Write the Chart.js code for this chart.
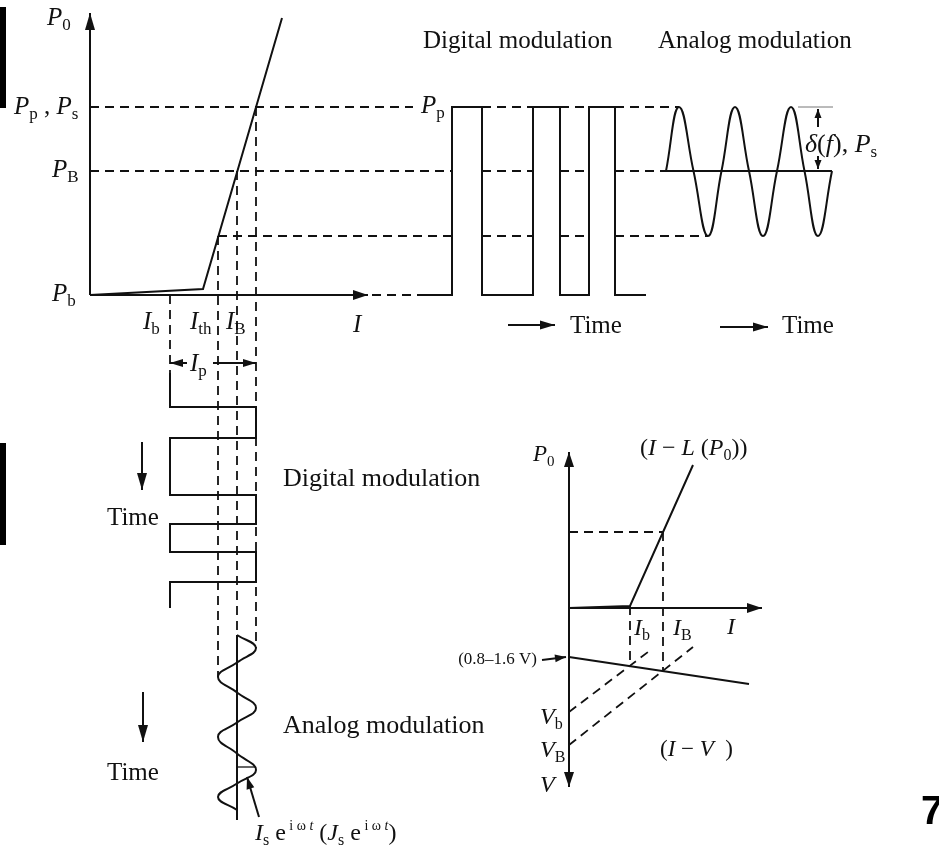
<!DOCTYPE html>
<html>
<head>
<meta charset="utf-8">
<title>Semiconductor laser modulation: L–I and I–V characteristics</title>
<script src="https://cdn.jsdelivr.net/npm/chart.js@4.4.1/dist/chart.umd.min.js"></script>
<style>
  html, body { margin: 0; padding: 0; background: #ffffff; }
  canvas { display: block; }
</style>
</head>
<body>
<canvas id="diagram" width="939" height="853"></canvas>
<script>
// ---------------------------------------------------------------
// Diagram coordinates (x to the right, y downwards) used by both scales
// ---------------------------------------------------------------
const VIEW_W = 939;
const VIEW_H = 853;

// Output power levels of the upper L–I plot (y position on the P0 axis)
const powerPeak = 107;    // Pp , Ps
const powerBias = 171;    // PB
const powerTrough = 236;  // lowest analog level
const powerBase = 295;    // Pb (current axis)

// Drive currents on the I axis (x position)
const currentIb = 170;
const currentIth = 218;
const currentIB = 237;
const currentIp = 256;

// L–I characteristic: spontaneous part up to threshold, then lasing slope
const liCurve = [[90, 295], [203, 289], [282, 18]];

// Digital optical output: rising / falling edges of the three pulses
const pulseEdges = [[452, 482], [533, 560], [589, 615]];
const pulseLineStart = 420;
const pulseLineEnd = 646;

// Analog optical output: crossings, crests and troughs (x positions)
const analogStart = 666;
const analogEnd = 832;
const analogCrests = [679, 735, 791];
const analogTroughs = [708, 763, 818];

// Digital drive current (time runs downwards): y of each switching edge
const drivePulseTop = 373;
const driveSwitchRows = [407, 438, 495, 524, 552, 582];
const drivePulseBottom = 608;

// Analog drive current around IB: y of right crests and left troughs
const driveWaveStart = 635;
const driveWaveEnd = 810;
const driveCrests = [648, 708, 770];
const driveTroughs = [677, 737, 797];
const driveAxisEnd = 820;
const driveAmplitudeRow = 767;

// Lower right: L–I and I–V of the same diode
const smallOrigin = [569, 608];
const smallLI = [[569, 608], [630, 606], [693, 465]];
const smallIV = [[569, 657], [749, 684]];
const smallIb = 630;
const smallIB = 663;
const smallPB = 532;
const smallVb = 712;
const smallVB = 745;
const smallIVatIb = 665;
const smallIVatIB = 670;

// ---------------------------------------------------------------
// Helpers that turn the arrays above into Chart.js datasets
// ---------------------------------------------------------------
const INK = '#111111';
const DASH = [9, 6];
const datasets = [];
const arrowHeads = [];

function line(points, opts) {
  datasets.push(Object.assign({
    data: points.map(([x, y]) => ({ x, y })),
    showLine: true,
    borderColor: INK,
    borderWidth: 2,
    pointRadius: 0,
    pointHoverRadius: 0,
    fill: false,
    tension: 0,
    clip: false,
    borderCapStyle: 'butt',
    borderJoinStyle: 'miter'
  }, opts || {}));
}
function dashed(points, opts) {
  line(points, Object.assign({ borderDash: DASH, borderWidth: 1.8 }, opts || {}));
}
// arrow from tail to tip; the head is painted by the plugin below
function arrow(tail, tip, len, half, opts) {
  line([tail, tip], opts);
  arrowHeads.push({ tail, tip, len, half });
}

// page-edge marks
line([[3, 7], [3, 108]], { borderWidth: 6, borderColor: '#000' });
line([[3, 443], [3, 545]], { borderWidth: 6, borderColor: '#000' });

// ---- upper left: L–I characteristic ----
arrow([90, powerBase], [90, 13], 17, 5);
arrow([90, powerBase], [368, powerBase], 15, 5);
line(liCurve);
dashed([[372, powerBase], [pulseLineStart, powerBase]]);

// horizontal projections towards the output waveforms
const gaps = [];
for (let i = 0; i < pulseEdges.length - 1; i++) gaps.push([pulseEdges[i][1], pulseEdges[i + 1][0]]);
const firstEdge = pulseEdges[0][0];
const lastEdge = pulseEdges[pulseEdges.length - 1][1];
dashed([[90, powerPeak], [413, powerPeak]]);
dashed([[90, powerBias], [firstEdge, powerBias]]);
dashed([[currentIth, powerTrough], [firstEdge, powerTrough]]);
gaps.forEach(([a, b]) => {
  dashed([[a, powerPeak], [b, powerPeak]]);
  dashed([[a, powerBias], [b, powerBias]]);
  dashed([[a, powerTrough], [b, powerTrough]]);
});
dashed([[lastEdge, powerPeak], [analogCrests[0], powerPeak]]);
dashed([[lastEdge, powerBias], [analogStart, powerBias]]);
dashed([[lastEdge, powerTrough], [analogTroughs[0], powerTrough]]);

// vertical projections towards the drive currents
dashed([[currentIb, powerBase], [currentIb, drivePulseTop]]);
dashed([[currentIth, powerTrough], [currentIth, driveTroughs[0]]]);
dashed([[currentIB, powerBias], [currentIB, driveWaveStart]]);
dashed([[currentIp, powerPeak], [currentIp, driveCrests[0]]]);

// ---- upper right: digital optical pulses ----
const pulsePath = [[pulseLineStart, powerBase]];
pulseEdges.forEach(([a, b]) => {
  pulsePath.push([a, powerBase], [a, powerPeak], [b, powerPeak], [b, powerBase]);
});
pulsePath.push([pulseLineEnd, powerBase]);
line(pulsePath);
arrow([508, 325], [555, 325], 15, 4.5);

// ---- upper right: analog optical signal ----
line([[analogStart, powerBias], [analogEnd, powerBias]]);
const analogPath = [[analogStart, powerBias]];
analogCrests.forEach((c, i) => {
  const t = analogTroughs[i];
  analogPath.push([c, powerPeak], [(c + t) / 2, powerBias], [t, powerTrough]);
  const next = i + 1 < analogCrests.length ? (t + analogCrests[i + 1]) / 2 : analogEnd;
  analogPath.push([next, powerBias]);
});
line(analogPath, { tension: 0.45 });
arrow([720, 327], [768, 327], 15, 4.5);
line([[798, powerPeak], [833, powerPeak]], { borderWidth: 1, borderColor: '#777' });
arrow([818, 127], [818, 109], 9, 3.5);
arrow([818, 156], [818, 169], 9, 3.5);

// ---- lower left: digital drive current ----
const drivePath = [[currentIb, drivePulseTop]];
driveSwitchRows.forEach((row, i) => {
  const from = i % 2 === 0 ? currentIb : currentIp;
  const to = i % 2 === 0 ? currentIp : currentIb;
  drivePath.push([from, row], [to, row]);
});
drivePath.push([currentIb, drivePulseBottom]);
line(drivePath);
// Ip span arrows
arrow([187, 363], [currentIb, 363], 13, 4);
arrow([213, 363], [currentIp, 363], 13, 4);
arrow([142, 442], [142, 490], 17, 5);

// ---- lower left: analog drive current ----
line([[currentIB, driveWaveStart], [currentIB, driveAxisEnd]]);
const drivePath2 = [[currentIB, driveWaveStart]];
driveCrests.forEach((c, i) => {
  const t = driveTroughs[i];
  drivePath2.push([currentIp, c], [currentIB, (c + t) / 2], [currentIth, t]);
  const next = i + 1 < driveCrests.length ? (t + driveCrests[i + 1]) / 2 : driveWaveEnd;
  drivePath2.push([currentIB, next]);
});
line(drivePath2, { tension: 0.45 });
line([[currentIB, driveAmplitudeRow], [255, driveAmplitudeRow]], { borderWidth: 1.3 });
arrow([259, 817], [247, 777], 12, 4);
arrow([143, 692], [143, 742], 17, 5);

// ---- lower right: L–I and I–V ----
arrow(smallOrigin, [569, 452], 15, 5);
arrow(smallOrigin, [569, 787], 15, 5);
arrow(smallOrigin, [762, 608], 15, 5);
line(smallLI);
line(smallIV);
dashed([[569, smallPB], [smallIB, smallPB]]);
dashed([[smallIB, smallPB], [smallIB, smallIVatIB]]);
dashed([[smallIb, 606], [smallIb, smallIVatIb]]);
dashed([[569, smallVb], [648, 652]]);
dashed([[569, smallVB], [693, 647]]);
arrow([542, 660], [566, 657], 11, 4);

// ---------------------------------------------------------------
// Text (variables italic, indices upright)
// ---------------------------------------------------------------
const SERIF = '"Liberation Serif", "Times New Roman", serif';
const textLabels = [
  { x: 47, y: 25, s: 25, p: [['P', 'i'], ['0', 'b']] },
  { x: 14, y: 114, s: 25, p: [['P', 'i'], ['p', 'b'], [' , ', 'n'], ['P', 'i'], ['s', 'b']] },
  { x: 52, y: 177, s: 25, p: [['P', 'i'], ['B', 'b']] },
  { x: 52, y: 301, s: 25, p: [['P', 'i'], ['b', 'b']] },
  { x: 143, y: 329, s: 25, p: [['I', 'i'], ['b', 'b']] },
  { x: 190, y: 329, s: 25, p: [['I', 'i'], ['th', 'b']] },
  { x: 226, y: 329, s: 25, p: [['I', 'i'], ['B', 'b']] },
  { x: 353, y: 332, s: 25, p: [['I', 'i']] },
  { x: 190, y: 371, s: 25, p: [['I', 'i'], ['p', 'b']] },
  { x: 423, y: 48, s: 25, p: [['Digital modulation', 'n']] },
  { x: 658, y: 48, s: 25, p: [['Analog modulation', 'n']] },
  { x: 421, y: 113, s: 25, p: [['P', 'i'], ['p', 'b']] },
  { x: 570, y: 333, s: 25, p: [['Time', 'n']] },
  { x: 782, y: 333, s: 25, p: [['Time', 'n']] },
  { x: 805, y: 152, s: 26, p: [['δ', 'i'], ['(', 'n'], ['f', 'i'], [')', 'n'], [', ', 'n'], ['P', 'i'], ['s', 'b']] },
  { x: 283, y: 486, s: 26, p: [['Digital modulation', 'n']] },
  { x: 107, y: 525, s: 25, p: [['Time', 'n']] },
  { x: 283, y: 733, s: 26, p: [['Analog modulation', 'n']] },
  { x: 107, y: 780, s: 25, p: [['Time', 'n']] },
  { x: 255, y: 840, s: 24, p: [['I', 'i'], ['s', 'b'], [' e', 'n'], [' i ω ', 'p'], ['t', 'pi'], [' (', 'n'], ['J', 'i'], ['s', 'b'], [' e', 'n'], [' i ω ', 'p'], ['t', 'pi'], [')', 'n']] },
  { x: 533, y: 461, s: 23, p: [['P', 'i'], ['0', 'b']] },
  { x: 640, y: 455, s: 24, p: [['(', 'n'], ['I', 'i'], [' − ', 'n'], ['L', 'i'], [' (', 'n'], ['P', 'i'], ['0', 'b'], ['))', 'n']] },
  { x: 634, y: 635, s: 24, p: [['I', 'i'], ['b', 'b']] },
  { x: 673, y: 635, s: 24, p: [['I', 'i'], ['B', 'b']] },
  { x: 727, y: 634, s: 24, p: [['I', 'i']] },
  { x: 537, y: 664, s: 17, align: 'right', p: [['(0.8–1.6 V)', 'n']] },
  { x: 540, y: 724, s: 24, p: [['V', 'i'], ['b', 'b']] },
  { x: 540, y: 757, s: 24, p: [['V', 'i'], ['B', 'b']] },
  { x: 540, y: 792, s: 24, p: [['V', 'i']] },
  { x: 660, y: 756, s: 23, p: [['(', 'n'], ['I', 'i'], [' − ', 'n'], ['V', 'i'], ['  )', 'n']] }
];

function partFont(kind, s) {
  switch (kind) {
    case 'i': return { f: `italic ${s}px ${SERIF}`, dy: 0 };
    case 'b': return { f: `${Math.round(s * 0.66)}px ${SERIF}`, dy: s * 0.2 };
    case 'p': return { f: `${Math.round(s * 0.6)}px ${SERIF}`, dy: -s * 0.42 };
    case 'pi': return { f: `italic ${Math.round(s * 0.6)}px ${SERIF}`, dy: -s * 0.42 };
    default: return { f: `${s}px ${SERIF}`, dy: 0 };
  }
}

const annotate = {
  id: 'annotate',
  afterDatasetsDraw(chart) {
    const { ctx, scales } = chart;
    const X = v => scales.x.getPixelForValue(v);
    const Y = v => scales.y.getPixelForValue(v);
    ctx.save();
    ctx.fillStyle = INK;
    // arrow heads
    arrowHeads.forEach(({ tail, tip, len, half }) => {
      const tx = X(tip[0]), ty = Y(tip[1]);
      const ax = X(tail[0]), ay = Y(tail[1]);
      const d = Math.hypot(tx - ax, ty - ay) || 1;
      const ux = (tx - ax) / d, uy = (ty - ay) / d;
      const bx = tx - ux * len, by = ty - uy * len;
      ctx.beginPath();
      ctx.moveTo(tx, ty);
      ctx.lineTo(bx - uy * half, by + ux * half);
      ctx.lineTo(bx + uy * half, by - ux * half);
      ctx.closePath();
      ctx.fill();
    });
    // labels
    ctx.textBaseline = 'alphabetic';
    ctx.textAlign = 'left';
    textLabels.forEach(lb => {
      let w = 0;
      lb.p.forEach(([t, k]) => { ctx.font = partFont(k, lb.s).f; w += ctx.measureText(t).width; });
      let x = X(lb.x) - (lb.align === 'right' ? w : 0);
      const y = Y(lb.y);
      lb.p.forEach(([t, k]) => {
        const pf = partFont(k, lb.s);
        ctx.font = pf.f;
        ctx.fillText(t, x, y + pf.dy);
        x += ctx.measureText(t).width;
      });
    });
    // page number fragment, running off the right edge
    ctx.font = 'bold 40px "Liberation Sans", Arial, sans-serif';
    ctx.fillStyle = '#000';
    ctx.fillText('7', X(921), Y(824));
    ctx.restore();
  }
};

new Chart(document.getElementById('diagram').getContext('2d'), {
  type: 'scatter',
  data: { datasets },
  options: {
    responsive: false,
    animation: false,
    events: [],
    layout: { padding: 0 },
    scales: {
      x: { type: 'linear', min: 0, max: VIEW_W, display: false },
      y: { type: 'linear', min: 0, max: VIEW_H, reverse: true, display: false }
    },
    plugins: { legend: { display: false }, tooltip: { enabled: false } }
  },
  plugins: [annotate]
});
</script>
</body>
</html>
